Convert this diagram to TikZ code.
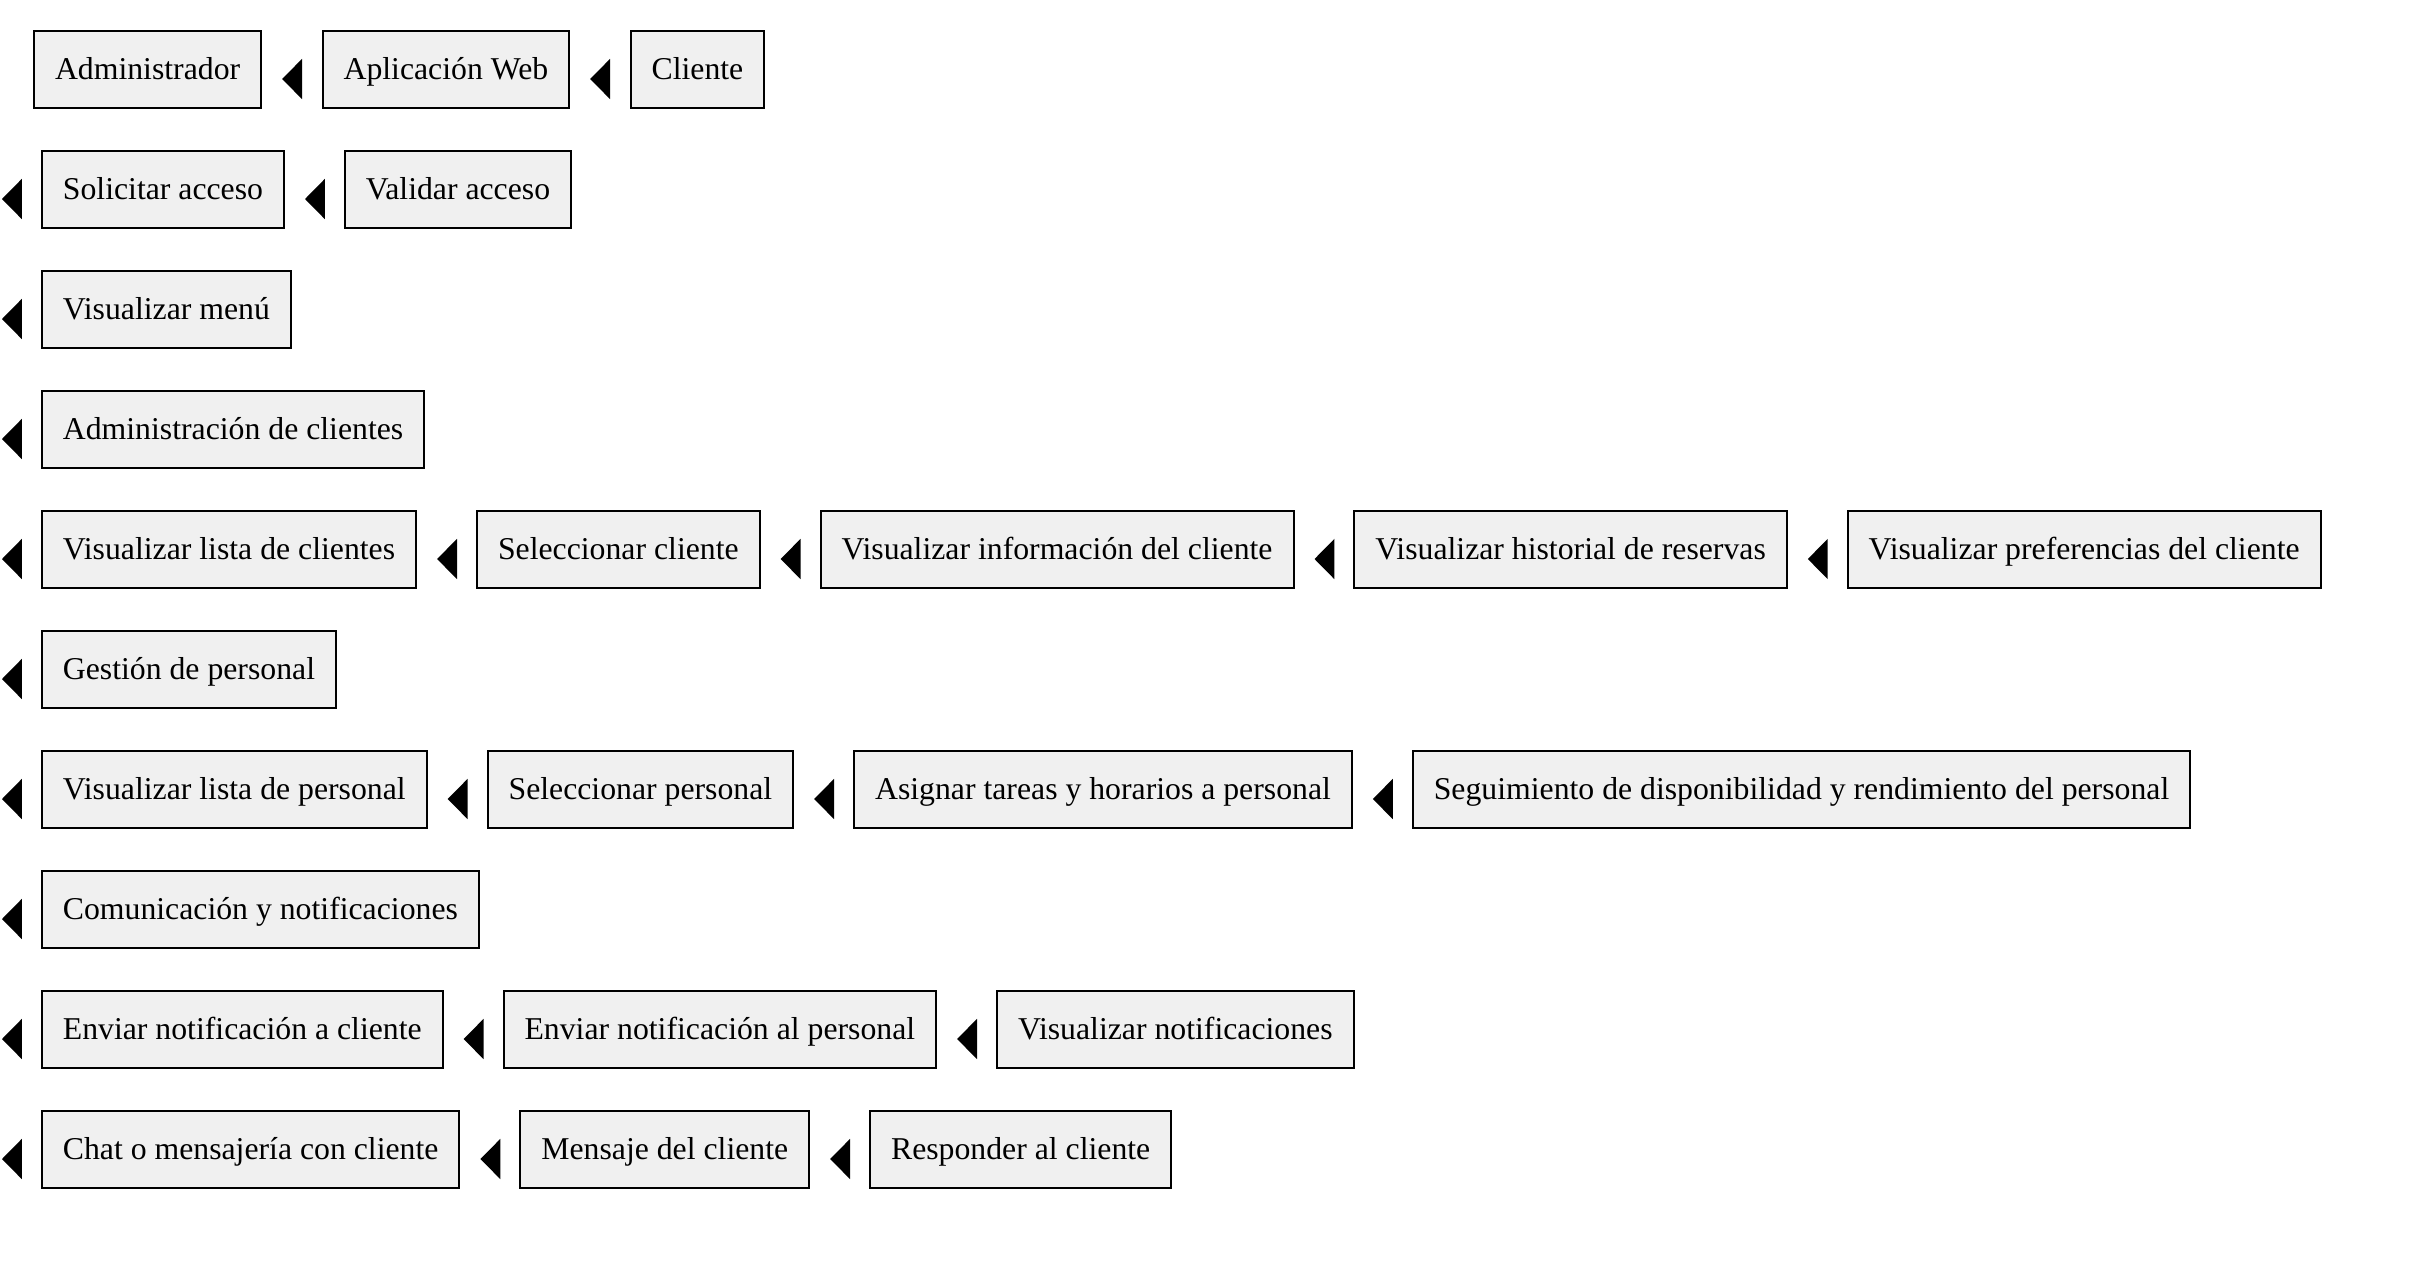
\documentclass[tikz,border=0pt]{standalone}
\usepackage{fontspec}
\setmainfont{Liberation Serif}
\usetikzlibrary{positioning}
\definecolor{gris}{HTML}{F0F0F0}
\tikzset{
  paso/.style={draw, line width=2pt, fill=gris, font=\fontsize{31.75}{36}\selectfont,
    text height=28.3pt, text depth=6.9pt, inner xsep=21pt, inner ysep=20.9pt},
  punta/.style={minimum width=19.5pt, minimum height=40pt, inner sep=0pt},
}

\begin{document}
\begin{tikzpicture}[x=1pt, y=-1pt]
\useasboundingbox (0,0) rectangle (2434,1270);
% fila 1
\node[paso, anchor=west] (admin) at (33,69) {Administrador};
\node[punta, right=20pt of admin] (p1a) {};
\node[paso, right=19.5pt of p1a] (web) {Aplicación Web};
\node[punta, right=20pt of web] (p1b) {};
\node[paso, right=19.5pt of p1b] (cli) {Cliente};
% fila 2
\node[punta, anchor=west] (p2a) at (2,189) {};
\node[paso, right=19pt of p2a] (solic) {Solicitar acceso};
\node[punta, right=20pt of solic] (p2b) {};
\node[paso, right=19pt of p2b] (valid) {Validar acceso};
% fila 3
\node[punta, anchor=west] (p3a) at (2,309) {};
\node[paso, right=19pt of p3a] (menu) {Visualizar menú};
% fila 4
\node[punta, anchor=west] (p4a) at (2,429) {};
\node[paso, right=19pt of p4a] (admcli) {Administración de clientes};
% fila 5
\node[punta, anchor=west] (p5a) at (2,549) {};
\node[paso, right=19pt of p5a] (lista) {Visualizar lista de clientes};
\node[punta, right=20pt of lista] (p5b) {};
\node[paso, right=19pt of p5b] (selcli) {Seleccionar cliente};
\node[punta, right=20pt of selcli] (p5c) {};
\node[paso, right=19pt of p5c] (info) {Visualizar información del cliente};
\node[punta, right=20pt of info] (p5d) {};
\node[paso, right=19pt of p5d] (hist) {Visualizar historial de reservas};
\node[punta, right=20pt of hist] (p5e) {};
\node[paso, right=19pt of p5e] (pref) {Visualizar preferencias del cliente};
% fila 6
\node[punta, anchor=west] (p6a) at (2,669) {};
\node[paso, right=19pt of p6a] (gest) {Gestión de personal};
% fila 7
\node[punta, anchor=west] (p7a) at (2,789) {};
\node[paso, right=19pt of p7a] (listap) {Visualizar lista de personal};
\node[punta, right=20pt of listap] (p7b) {};
\node[paso, right=19pt of p7b] (selper) {Seleccionar personal};
\node[punta, right=20pt of selper] (p7c) {};
\node[paso, right=19pt of p7c] (tareas) {Asignar tareas y horarios a personal};
\node[punta, right=20pt of tareas] (p7d) {};
\node[paso, right=19pt of p7d] (segui) {Seguimiento de disponibilidad y rendimiento del personal};
% fila 8
\node[punta, anchor=west] (p8a) at (2,909) {};
\node[paso, right=19pt of p8a] (comun) {Comunicación y notificaciones};
% fila 9
\node[punta, anchor=west] (p9a) at (2,1029) {};
\node[paso, right=19pt of p9a] (notcli) {Enviar notificación a cliente};
\node[punta, right=20pt of notcli] (p9b) {};
\node[paso, right=19pt of p9b] (notper) {Enviar notificación al personal};
\node[punta, right=20pt of notper] (p9c) {};
\node[paso, right=19pt of p9c] (vernot) {Visualizar notificaciones};
% fila 10
\node[punta, anchor=west] (p10a) at (2,1149) {};
\node[paso, right=19pt of p10a] (chat) {Chat o mensajería con cliente};
\node[punta, right=20pt of chat] (p10b) {};
\node[paso, right=19pt of p10b] (msj) {Mensaje del cliente};
\node[punta, right=20pt of msj] (p10c) {};
\node[paso, right=19pt of p10c] (resp) {Responder al cliente};
% puntas
\foreach \p in {p1a,p1b,p2a,p2b,p3a,p4a,p5a,p5b,p5c,p5d,p5e,p6a,p7a,p7b,p7c,p7d,
    p8a,p9a,p9b,p9c,p10a,p10b,p10c}
  \fill ([yshift=-10pt]\p.north east) -- ([yshift=-10pt]\p.south east)
    -- ([yshift=-10pt]\p.west) -- cycle;
\end{tikzpicture}
\end{document}
